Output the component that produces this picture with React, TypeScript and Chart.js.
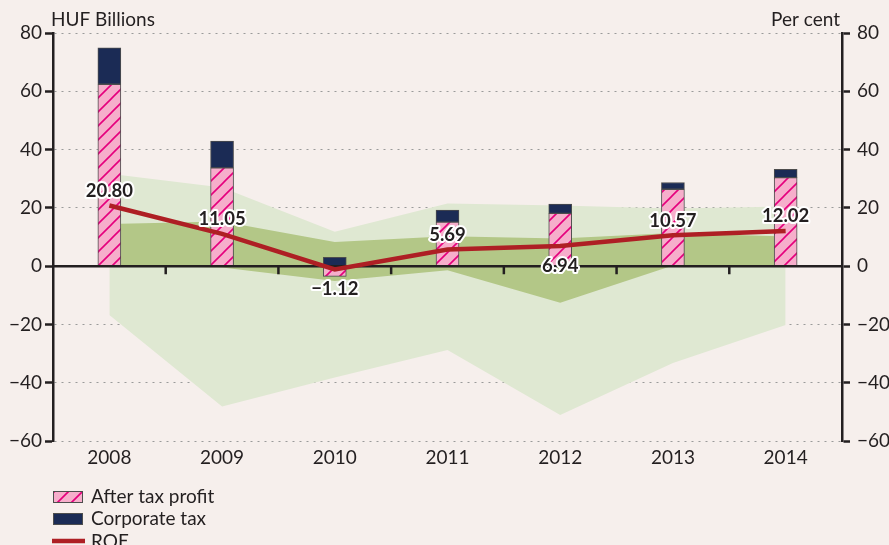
import React, { useEffect, useRef } from 'react';
import { Chart, registerables } from 'chart.js';

Chart.register(...registerables);

// ---- Data ----
const categories = ['2008', '2009', '2010', '2011', '2012', '2013', '2014'];
const afterTaxProfit = [62.4, 33.7, -3.5, 15.1, 18.1, 26.4, 30.4];
const corporateTax = [12.5, 9.2, 3.0, 4.1, 3.2, 2.3, 2.8];
const roe = [20.8, 11.05, -1.12, 5.69, 6.94, 10.57, 12.02];
const roeRangeHigh = [31.7, 27.0, 11.8, 21.5, 20.8, 19.8, 20.5];
const roeRangeLow = [-16.8, -48.2, -38.2, -28.8, -51.1, -33.2, -20.2];
const roeMidHigh = [14.5, 15.3, 8.3, 10.3, 9.5, 11.4, 10.2];
const roeMidLow = [0.3, -0.5, -5.1, -1.4, -12.6, 0.2, 0.2];
const roeLabelSide = ['above', 'above', 'below', 'above', 'below', 'above', 'above'];
const yTicks = [-60, -40, -20, 0, 20, 40, 60, 80];

// ---- Styles ----
const BG = '#F6EFEC';
const TEXT = '#231F20';
const PINK = '#F6AECB';
const MAGENTA = '#E5007D';
const NAVY = '#1B2B55';
const RED = '#AE1F24';
const LIGHT_GREEN = '#DFE8D2';
const DARK_GREEN = '#B3C787';
const BAR_EDGE = '#4D4D4D';
const FONT = 'Lato';
const FS = 19;
const FS_BOLD = 18.5;
const ROE_INDEX = 6;

const fmt = (v: number) => (v < 0 ? '\u2212' + Math.abs(v) : String(v));

function makeHatch(ctx: CanvasRenderingContext2D) {
  const s = 14;
  const c = document.createElement('canvas');
  c.width = s;
  c.height = s;
  const g = c.getContext('2d')!;
  g.fillStyle = PINK;
  g.fillRect(0, 0, s, s);
  g.strokeStyle = MAGENTA;
  g.lineWidth = 1.6;
  g.beginPath();
  g.moveTo(-2, s + 2);
  g.lineTo(s + 2, -2);
  g.moveTo(-2, 2);
  g.lineTo(2, -2);
  g.moveTo(s - 2, s + 2);
  g.lineTo(s + 2, s - 2);
  g.stroke();
  return ctx.createPattern(c, 'repeat')!;
}

function haloText(ctx: CanvasRenderingContext2D, text: string, x: number, y: number) {
  ctx.lineJoin = 'round';
  ctx.lineWidth = 4;
  ctx.strokeStyle = '#FFFFFF';
  ctx.strokeText(text, x, y);
  ctx.fillStyle = TEXT;
  ctx.fillText(text, x, y);
}

export default function App() {
  const ref = useRef<HTMLCanvasElement>(null);

  useEffect(() => {
    const canvas = ref.current!;
    const ctx = canvas.getContext('2d')!;
    const hatch = makeHatch(ctx);

    const overlay = {
      id: 'overlay',
      beforeDatasetDraw(chart: any, args: any) {
        if (args.index !== ROE_INDEX) return;
        const { ctx: c, chartArea, scales } = chart;
        const y0 = scales.y.getPixelForValue(0);
        c.save();
        c.strokeStyle = TEXT;
        c.lineWidth = 2.5;
        c.beginPath();
        c.moveTo(chartArea.left, y0);
        c.lineTo(chartArea.right, y0);
        for (let i = 1; i < categories.length; i++) {
          const x = (scales.x.getPixelForValue(i - 1) + scales.x.getPixelForValue(i)) / 2;
          c.moveTo(x, y0);
          c.lineTo(x, y0 + 8);
        }
        c.stroke();
        c.restore();
      },
      afterDatasetsDraw(chart: any) {
        const c = chart.ctx;
        const meta = chart.getDatasetMeta(ROE_INDEX);
        c.save();
        c.font = `bold ${FS_BOLD}px ${FONT}`;
        c.textAlign = 'center';
        c.textBaseline = 'alphabetic';
        meta.data.forEach((p: any, i: number) => {
          const above = roeLabelSide[i] === 'above';
          const cy = p.y + (above ? -15.5 : 19);
          haloText(c, roe[i].toFixed(2).replace('-', '\u2212'), p.x, cy + 6.7);
        });
        c.restore();
      },
      afterDraw(chart: any) {
        const c = chart.ctx;
        const { chartArea } = chart;
        c.save();
        c.fillStyle = TEXT;
        c.font = `${FS}px ${FONT}`;
        c.textBaseline = 'alphabetic';
        c.textAlign = 'left';
        c.fillText('HUF Billions', chartArea.left - 2, 26);
        c.textAlign = 'right';
        c.fillText('Per cent', chartArea.right - 2, 26);

        // legend
        const lx = chartArea.left;
        const top = chartArea.bottom + 50;
        const rowH = 22;
        c.textAlign = 'left';
        c.textBaseline = 'middle';
        // After tax profit
        c.fillStyle = hatch;
        c.fillRect(lx, top, 30, 12);
        c.strokeStyle = BAR_EDGE;
        c.lineWidth = 1;
        c.strokeRect(lx + 0.5, top + 0.5, 29, 11);
        c.fillStyle = TEXT;
        c.fillText('After tax profit', lx + 38, top + 6);
        // Corporate tax
        c.fillStyle = NAVY;
        c.fillRect(lx, top + rowH, 30, 12);
        c.strokeRect(lx + 0.5, top + rowH + 0.5, 29, 11);
        c.fillStyle = TEXT;
        c.fillText('Corporate tax', lx + 38, top + rowH + 6);
        // ROE
        c.strokeStyle = RED;
        c.lineWidth = 4.5;
        c.beginPath();
        c.moveTo(lx - 1, top + 2 * rowH + 6);
        c.lineTo(lx + 32, top + 2 * rowH + 6);
        c.stroke();
        c.fillStyle = TEXT;
        c.fillText('ROE', lx + 38, top + 2 * rowH + 7);
        c.restore();
      },
    };

    const lineBase = {
      type: 'line' as const,
      yAxisID: 'y1',
      pointRadius: 0,
      pointHoverRadius: 0,
      borderWidth: 0,
      borderColor: 'rgba(0,0,0,0)',
      tension: 0,
    };

    const chart = new Chart(canvas, {
      type: 'bar',
      data: {
        labels: categories,
        datasets: [
          { ...lineBase, label: 'range low', data: roeRangeLow, fill: false, order: 5 },
          { ...lineBase, label: 'range high', data: roeRangeHigh, fill: '-1', backgroundColor: LIGHT_GREEN, order: 4 },
          { ...lineBase, label: 'mid low', data: roeMidLow, fill: false, order: 3 },
          { ...lineBase, label: 'mid high', data: roeMidHigh, fill: '-1', backgroundColor: DARK_GREEN, order: 2 },
          {
            type: 'bar',
            label: 'After tax profit',
            data: afterTaxProfit,
            backgroundColor: hatch as any,
            borderColor: BAR_EDGE,
            borderWidth: 1,
            borderSkipped: false,
            barThickness: 23,
            yAxisID: 'y',
            order: 1,
          },
          {
            type: 'bar',
            label: 'Corporate tax',
            data: corporateTax,
            backgroundColor: NAVY,
            borderColor: BAR_EDGE,
            borderWidth: 1,
            borderSkipped: false,
            barThickness: 23,
            yAxisID: 'y',
            order: 1,
          },
          {
            type: 'line',
            label: 'ROE',
            data: roe,
            yAxisID: 'y1',
            borderColor: RED,
            borderWidth: 4.5,
            pointRadius: 0,
            pointHoverRadius: 0,
            tension: 0,
            fill: false,
            order: 0,
          },
        ] as any,
      },
      options: {
        responsive: false,
        animation: false,
        devicePixelRatio: 1,
        events: [],
        layout: { padding: { top: 33, bottom: 74, left: 0, right: 0 } },
        plugins: {
          legend: { display: false },
          tooltip: { enabled: false },
          title: { display: false },
        },
        scales: {
          x: {
            stacked: true,
            offset: true,
            grid: { display: false, drawTicks: false },
            border: { display: false },
            ticks: {
              color: TEXT,
              font: { family: FONT, size: FS },
              padding: 5,
              maxRotation: 0,
              autoSkip: false,
            },
            afterFit: (s: any) => {
              s.height = 30;
            },
          },
          y: {
            stacked: true,
            position: 'left',
            min: -60,
            max: 80,
            afterBuildTicks: (s: any) => {
              s.ticks = yTicks.map((v) => ({ value: v }));
            },
            ticks: {
              color: TEXT,
              font: { family: FONT, size: FS },
              padding: 3,
              callback: (v: any) => fmt(Number(v)),
            },
            grid: {
              color: (c: any) => (c.tick && c.tick.value === 0 ? 'rgba(0,0,0,0)' : '#9A9A9A'),
              lineWidth: 1,
              drawTicks: true,
              tickLength: 8,
              tickColor: TEXT,
              tickWidth: 2.5,
            },
            border: { display: true, color: TEXT, width: 2.5, dash: [2, 5] },
            afterFit: (s: any) => {
              s.width = 53;
            },
          },
          y1: {
            position: 'right',
            min: -60,
            max: 80,
            afterBuildTicks: (s: any) => {
              s.ticks = yTicks.map((v) => ({ value: v }));
            },
            ticks: {
              color: TEXT,
              font: { family: FONT, size: FS },
              padding: 7,
              callback: (v: any) => fmt(Number(v)),
            },
            grid: {
              drawOnChartArea: false,
              drawTicks: true,
              tickLength: 8,
              tickColor: TEXT,
              tickWidth: 2.5,
            },
            border: { display: true, color: TEXT, width: 2.5 },
            afterFit: (s: any) => {
              s.width = 47;
            },
          },
        },
      } as any,
      plugins: [overlay],
    });

    return () => chart.destroy();
  }, []);

  return (
    <div
      style={{
        position: 'fixed',
        left: 0,
        top: 0,
        width: 889,
        height: 545,
        overflow: 'hidden',
        background: BG,
      }}
    >
      <canvas ref={ref} width={889} height={545} style={{ display: 'block', width: 889, height: 545 }} />
    </div>
  );
}
